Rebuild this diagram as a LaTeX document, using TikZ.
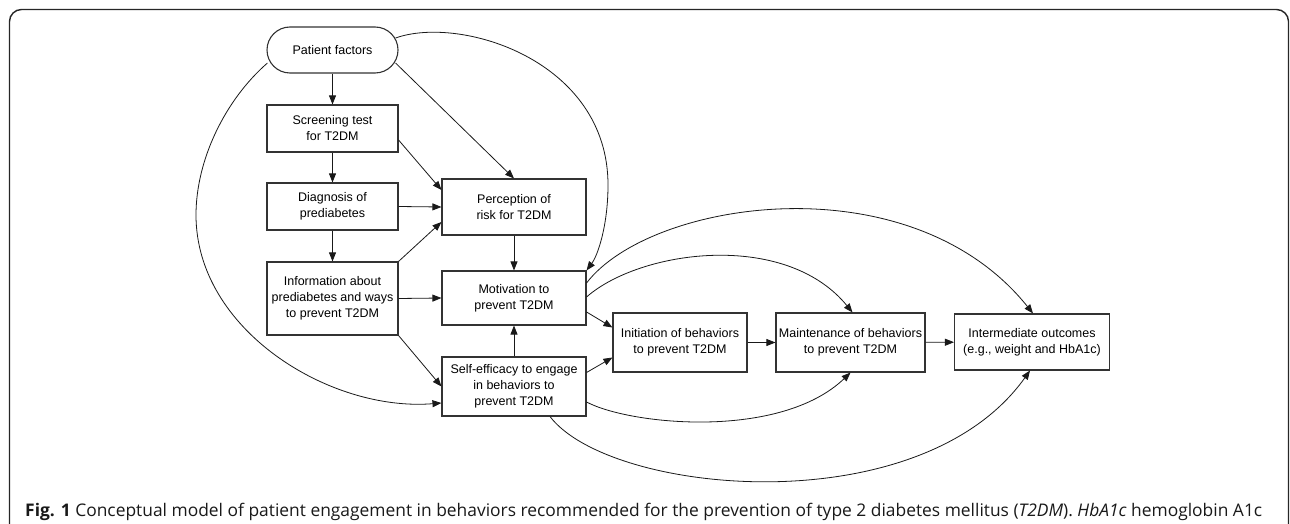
\documentclass[tikz,border=0pt]{standalone}
\usepackage{graphicx}
\usepackage{fontspec}
\setmainfont{Liberation Sans}
\newfontfamily\capfont{Open Sans}
\usetikzlibrary{arrows.meta,calc}
\begin{document}
\begin{tikzpicture}[x=1pt,y=-1pt,
  box/.style={draw=black!80,line width=1.1pt,align=center,inner sep=1pt,
    font=\fontsize{12.5}{16}\selectfont},
  arr/.style={-{Triangle[length=9pt,width=7pt]},line width=0.8pt,draw=black!90},
  frame/.style={draw=black!85,line width=1.4pt,rounded corners=12pt}]
\useasboundingbox (0,0) rectangle (1290,524);
\draw[frame] (9.5,560) -- (9.5,9.5) -- (1288.5,9.5) -- (1288.5,560);

\node[box,minimum width=131pt,minimum height=46pt,rounded corners=23pt] (PF) at (332.5,50) {Patient factors};
\node[box,minimum width=131pt,minimum height=47pt] (Scr) at (332.5,128.5) {Screening test\\for T2DM};
\node[box,minimum width=131pt,minimum height=47pt] (Diag) at (332.5,206.5) {Diagnosis of\\prediabetes};
\node[box,minimum width=131pt,minimum height=73pt] (Info) at (332.5,298.5) {Information about\\prediabetes and ways\\to prevent T2DM};
\node[box,minimum width=144pt,minimum height=56pt] (Perc) at (514,207) {Perception of\\risk for T2DM};
\node[box,minimum width=144pt,minimum height=54pt] (Mot) at (514,298) {Motivation to\\prevent T2DM};
\node[box,minimum width=144pt,minimum height=59pt] (Self) at (514,386.5) {Self-efficacy to engage\\in behaviors to\\prevent T2DM};
\node[box,minimum width=134pt,minimum height=59pt] (Init) at (680,342.5) {Initiation of behaviors\\to prevent T2DM};
\node[box,minimum width=149pt,minimum height=59pt] (Maint) at (850.5,342.5) {Maintenance of behaviors\\to prevent T2DM};
\node[box,minimum width=155pt,minimum height=56pt] (Inter) at (1032,342) {Intermediate outcomes\\(e.g., weight and HbA1c)};

% vertical chain
\draw[arr] (PF) -- (Scr);
\draw[arr] (Scr) -- (Diag);
\draw[arr] (Diag) -- (Info);
% into perception
\draw[arr] ($(Scr.east)+(0,11.5)$) -- ($(Perc.west)+(0,-17)$);
\draw[arr] (Diag.east) -- (Perc.west);
\draw[arr] (Info.north east) -- ($(Perc.west)+(0,15)$);
\draw[arr] ($(PF.east)+(-3,13)$) -- (Perc.north);
% into motivation / self-efficacy
\draw[arr] (Info.east) -- (Mot.west);
\draw[arr] (Info.south east) -- (Self.west);
\draw[arr] (Perc) -- (Mot);
\draw[arr] (Self) -- (Mot);
% big arcs from patient factors
\draw[arr] ($(PF.east)+(-3,-12)$) .. controls (460,15) and (608,60) .. (608,185)
   .. controls (608,225) and (598,255) .. (Mot.north east);
\draw[arr] ($(PF.west)+(1,13)$) .. controls (225,100) and (196,160) .. (196,215)
   .. controls (196,330) and (330,412) .. ($(Self.west)+(0,16.5)$);
% to initiation
\draw[arr] ($(Mot.east)+(0,14)$) -- ($(Init.west)+(0,-15)$);
\draw[arr] ($(Self.east)+(0,-14)$) -- ($(Init.west)+(0,15)$);
% chain right
\draw[arr] (Init) -- (Maint);
\draw[arr] (Maint) -- (Inter);
% upper arcs
\draw[arr] ($(Mot.east)+(0,-1)$) .. controls (640,250) and (785,230) .. ($(Maint.north)+(2,0)$);
\draw[arr] ($(Mot.east)+(0,-15)$) .. controls (650,200) and (910,160) .. ($(Inter.north)+(1,0)$);
% lower arcs
\draw[arr] ($(Self.east)+(0,15.5)$) .. controls (630,425) and (780,440) .. (Maint.south);
\draw[arr] ($(Self.south)+(36,0)$) .. controls (610,495) and (920,525) .. ($(Inter.south)+(-2,0)$);

\node[anchor=base west,inner sep=0pt,text=black!90] (cap) at (25,516)
  {\resizebox{1237pt}{!}{\capfont\fontsize{17}{20}\selectfont\textbf{Fig. 1} Conceptual model of patient engagement in behaviors recommended for the prevention of type 2 diabetes mellitus (\textit{T2DM}). \textit{HbA1c} hemoglobin A1c}};
\end{tikzpicture}
\end{document}
